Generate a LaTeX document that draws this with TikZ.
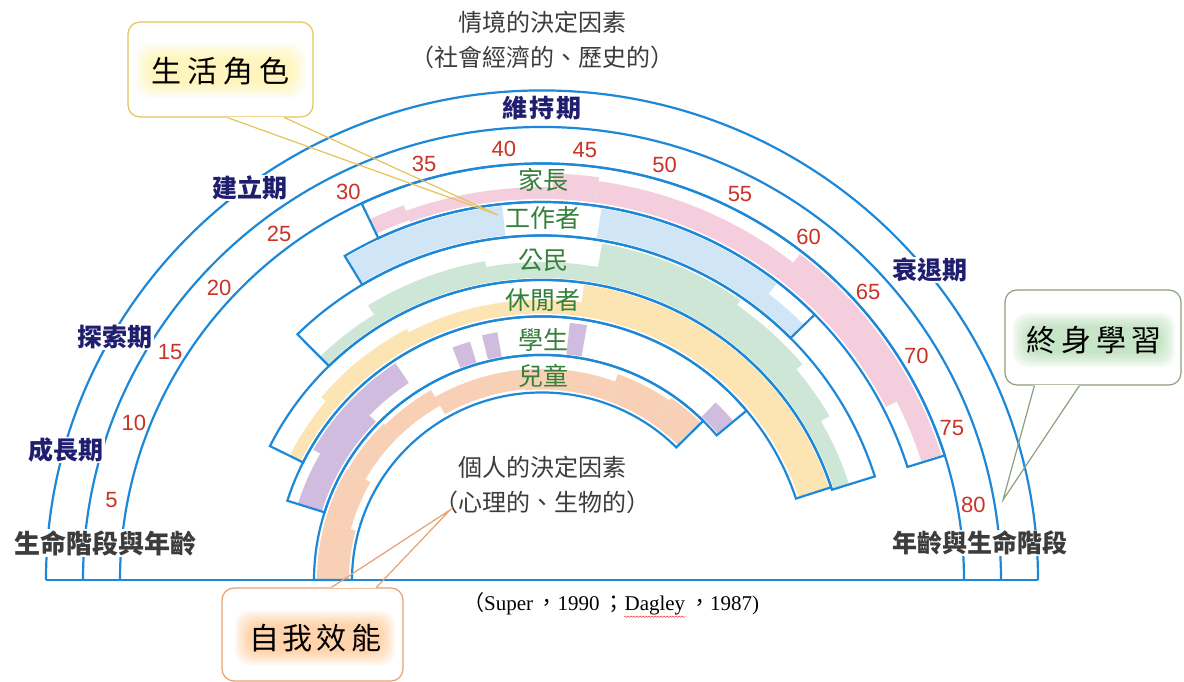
\documentclass[tikz,border=0pt]{standalone}
\usepackage{fontspec}
\setmainfont{Liberation Serif}
\newfontfamily\cjk{Noto Sans CJK TC}
\newfontfamily\numfont{Liberation Sans}
\usetikzlibrary{positioning,decorations.pathmorphing}

\definecolor{arcblue}{RGB}{30,136,216}
\definecolor{stagenavy}{RGB}{32,30,110}
\definecolor{agered}{RGB}{200,52,40}
\definecolor{rolegreen}{RGB}{52,128,58}
\definecolor{textgray}{RGB}{60,60,60}
\definecolor{parentpink}{RGB}{245,206,222}
\definecolor{workerblue}{RGB}{208,229,246}
\definecolor{citizengreen}{RGB}{206,230,214}
\definecolor{leisureyellow}{RGB}{252,229,178}
\definecolor{studentpurple}{RGB}{207,188,222}
\definecolor{childpeach}{RGB}{247,208,182}
\definecolor{boxgold}{RGB}{230,196,90}
\definecolor{boxsage}{RGB}{140,160,125}
\definecolor{boxorange}{RGB}{232,160,110}

\tikzset{
  ring/.style={draw=arcblue, line width=2.2pt},
  stagelabel/.style={font=\cjk\bfseries\fontsize{25}{25}\selectfont, text=stagenavy, inner sep=1pt},
  agenum/.style={font=\numfont\fontsize{22}{22}\selectfont, text=agered, inner sep=0pt},
  rolelabel/.style={font=\cjk\fontsize{25}{25}\selectfont, text=rolegreen, inner sep=0pt},
  factor/.style={font=\cjk\fontsize{24}{24}\selectfont, text=textgray, inner sep=0pt},
  axislabel/.style={font=\cjk\bfseries\fontsize{25}{25}\selectfont, text=textgray, fill=white, inner sep=1pt},
  calloutbox/.style={fill=white, rounded corners=12pt, line width=1.2pt},
  callouttext/.style={font=\cjk\fontsize{30}{30}\selectfont, text=black, inner sep=0pt},
  citetext/.style={font=\fontsize{21}{21}\selectfont, anchor=base west, inner sep=0pt},
}

% one stepped piece of a role band: colour, start angle, end angle, inner radius, outer radius
\newcommand{\rolefill}[5]{%
  \fill[#1] (#2:#4) arc[start angle=#2, end angle=#3, radius=#4]
    -- (#3:#5) arc[start angle=#3, end angle=#2, radius=#5] -- cycle;}

\begin{document}
\begin{tikzpicture}[x=1pt, y=1pt]
  \useasboundingbox (0,0) rectangle (1184,682);
  \fill[white] (0,0) rectangle (1184,682);

  % the rainbow, centred on the base line
  \begin{scope}[shift={(542,102)}, yscale=0.987]
    % role shading
    \foreach \angA/\angB/\rIn/\rOut in {115.2/110/388/404, 110/88.5/386/398, 88.5/82/386/412,
                                         82/52/386/408, 52/27/386/419, 27/17.6/398/419} {
      \rolefill{parentpink}{\angA}{\angB}{\rIn}{\rOut}
    }
    \foreach \angA/\angB/\rIn/\rOut in {120.8/96/351/381, 81/52/351/381, 52/44.8/351/368} {
      \rolefill{workerblue}{\angA}{\angB}{\rIn}{\rOut}
    }
    \foreach \angA/\angB/\rIn/\rOut in {134.3/122/306/317, 122/100/306/328, 100/80/306/322,
                                         80/55/306/346, 55/40/306/340, 40/30/306/332, 30/17.7/306/322} {
      \rolefill{citizengreen}{\angA}{\angB}{\rIn}{\rOut}
    }
    \foreach \angA/\angB/\rIn/\rOut in {153.3/140/270/282, 140/118/270/288, 118/82/270/284,
                                         82/60/270/302, 60/18.2/270/302} {
      \rolefill{leisureyellow}{\angA}{\angB}{\rIn}{\rOut}
    }
    \foreach \angA/\angB/\rIn/\rOut in {162.3/150/231/256, 150/136/231/264, 136/123.7/240/264,
                                         110.8/106.6/230/252, 103.6/100.1/230/255, 83.9/80.1/230/262,
                                         46/40.3/230/250} {
      \rolefill{studentpurple}{\angA}{\angB}{\rIn}{\rOut}
    }
    \foreach \angA/\angB/\rIn/\rOut in {180/165/193/225, 165/150/198/225, 150/135/204/224,
                                         135/120/204/222, 120/95/194/214, 95/70/193/214,
                                         70/55/193/222, 55/45.2/193/225} {
      \rolefill{childpeach}{\angA}{\angB}{\rIn}{\rOut}
    }

    % role bands
    \foreach \angA/\angB/\rIn/\rOut in {115.3/17.4/383/422, 121/44.6/349/383, 134.5/17.5/304/349,
                                         153.5/18/267/304, 162.5/40/228/267, 180/45/190/228} {
      \draw[ring] (\angA:\rIn) arc[start angle=\angA, end angle=\angB, radius=\rIn]
        -- (\angB:\rOut) arc[start angle=\angB, end angle=\angA, radius=\rOut] -- cycle;
    }

    % stage ring and age ring
    \foreach \r in {496,459,422} {
      \draw[ring] (180:\r) arc[start angle=180, end angle=0, radius=\r];
    }
    \coordinate (baseL) at (180:496);
    \coordinate (baseR) at (0:496);
    \draw[ring] (baseL) -- (baseR);

    % ages
    \foreach \a in {5,10,...,80} {
      \node[agenum] (age\a) at ({180-2.125*\a}:438) {\a};
    }
  \end{scope}

  % life stages
  \node[stagelabel, fill=white] (growth) at (66,232) {成長期};
  \node[stagelabel, fill=white] (explore) at (115,345) {探索期};
  \node[stagelabel, fill=white] (establish) at (250,494) {建立期};
  \node[stagelabel] (maintain) at (542,574) {維\hspace{2pt}持\hspace{2pt}期};
  \node[stagelabel, fill=white] (decline) at (930,412) {衰退期};

  % life roles
  \node[rolelabel] (parent) at (543,502) {家長};
  \node[rolelabel] (worker) at (543,464) {工作者};
  \node[rolelabel] (citizen) at (543,422) {公民};
  \node[rolelabel] (leisure) at (543,382) {休閒者};
  \node[rolelabel] (student) at (543,342) {學生};
  \node[rolelabel] (child) at (543,306) {兒童};

  % determinants
  \node[factor] (situation) at (542,660) {情境的決定因素};
  \node[factor] (situation2) at (542,625) {（社會經濟的、歷史的）};
  \node[factor] (personal) at (542,215) {個人的決定因素};
  \node[factor] (personal2) at (542,180) {（心理的、生物的）};
  \node[axislabel, font=\cjk\bfseries\fontsize{26}{26}\selectfont] (axisL) at (106,139) {生命階段與年齡};
  \node[axislabel] (axisR) at (980,139) {年齡與生命階段};

  % source
  \node[citetext] (cite1) at (463,71) {{\cjk （}Super\,{\cjk ，}1990\,{\cjk ；}};
  \node[citetext] (dagley) at (cite1.base east) {Dagley};
  \node[citetext] (cite2) at (dagley.base east) {\,{\cjk ，}1987)};
  \draw[red!80, line width=0.5pt, decorate, decoration={snake, amplitude=0.7pt, segment length=3pt}]
    ([yshift=-1pt]dagley.south west) -- ([yshift=-1pt]dagley.south east);

  % callout: life roles
  \node[calloutbox, draw=boxgold, minimum width=185pt, minimum height=95pt] (lifebox) at (220.5,612.5) {};
  \foreach \g in {0,2,...,14} {
    \fill[yellow!85!orange!45, opacity=0.09, rounded corners=14pt] (150-\g,598-\g) rectangle (291+\g,624+\g);
  }
  \node[callouttext] (lifetext) at (220.5,611) {生\hspace{6pt}活\hspace{6pt}角\hspace{6pt}色};
  \coordinate (lifeL) at ([xshift=100pt]lifebox.south west);
  \coordinate (lifeR) at ([xshift=157pt]lifebox.south west);
  \coordinate (lifetip) at (498,467);
  \draw[white, line width=2pt] (lifeL) -- (lifeR);
  \draw[boxgold, line width=1.2pt] (lifeL) -- (lifetip) -- (lifeR);

  % callout: lifelong learning
  \node[calloutbox, draw=boxsage, minimum width=176pt, minimum height=95pt] (learnbox) at (1093,344.5) {};
  \foreach \g in {0,2,...,14} {
    \fill[green!55!black!40, opacity=0.09, rounded corners=14pt] (1027-\g,329-\g) rectangle (1161+\g,355+\g);
  }
  \node[callouttext] (learntext) at (1094,342) {終\hspace{5pt}身\hspace{5pt}學\hspace{5pt}習};
  \coordinate (learnL) at ([xshift=30pt]learnbox.south west);
  \coordinate (learnR) at ([xshift=75pt]learnbox.south west);
  \coordinate (learntip) at (1003,182);
  \draw[white, line width=2pt] (learnL) -- (learnR);
  \draw[boxsage, line width=1.2pt] (learnL) -- (learntip) -- (learnR);

  % callout: self-efficacy
  \node[calloutbox, draw=boxorange, minimum width=181pt, minimum height=93pt] (effbox) at (312.5,47.5) {};
  \foreach \g in {0,2,...,14} {
    \fill[orange!60, opacity=0.09, rounded corners=14pt] (249-\g,31-\g) rectangle (381+\g,57+\g);
  }
  \node[callouttext] (efftext) at (315,44) {自\hspace{4pt}我\hspace{4pt}效\hspace{4pt}能};
  \coordinate (effL) at ([xshift=110pt]effbox.north west);
  \coordinate (effR) at ([xshift=155pt]effbox.north west);
  \coordinate (efftip) at (450,172);
  \draw[white, line width=2pt] (effL) -- (effR);
  \draw[boxorange, line width=1.2pt] (effL) -- (efftip) -- (effR);
\end{tikzpicture}
\end{document}
